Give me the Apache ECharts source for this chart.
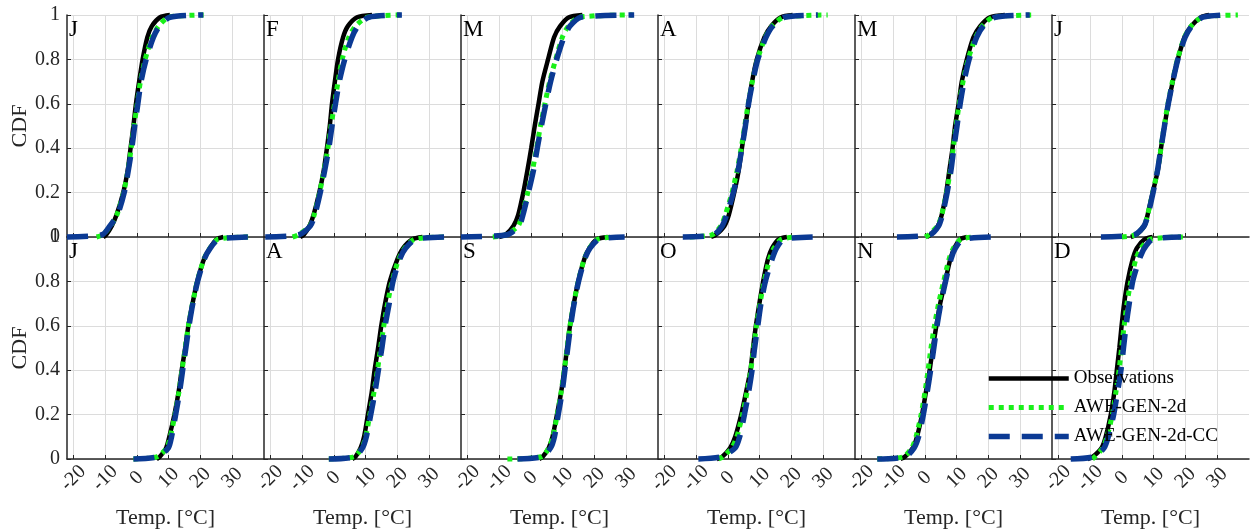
<!DOCTYPE html>
<html>
<head>
<meta charset="utf-8">
<script src="https://cdn.jsdelivr.net/npm/echarts@6/dist/echarts.min.js"></script>
<style>
  html, body { margin: 0; padding: 0; background: #ffffff; }
  #chart { width: 1255px; height: 532px; }
</style>
</head>
<body>
<div id="chart"></div>
<script>
// Monthly panel labels (Jan .. Dec)
const months = ['J', 'F', 'M', 'A', 'M', 'J', 'J', 'A', 'S', 'O', 'N', 'D'];

// Cumulative probability levels at which the temperature quantiles are given
const cdfLevels = [0, 0.01, 0.05, 0.1, 0.2, 0.3, 0.4, 0.5, 0.6, 0.7, 0.8, 0.9, 0.95, 0.99, 1];

// Axis tick values
const xTicks = [-20, -10, 0, 10, 20, 30];
const xRange = [-22, 40];

// Temperature quantiles [°C] per month, one row per month, one column per cdf level
const observations = [
  [-10.6, -9.7, -7.9, -6.4, -4.3, -2.9, -2.0, -1.1, -0.3, 0.7, 1.8, 3.3, 4.7, 7.3, 10.4],
  [-10.6, -9.5, -7.7, -6.4, -4.6, -3.2, -2.2, -1.3, -0.6, 0.3, 1.3, 2.9, 4.4, 7.3, 12.0],
  [-10.0, -8.0, -5.5, -4.0, -2.4, -1.1, 0.1, 1.2, 2.4, 3.6, 5.4, 7.3, 9.2, 12.0, 16.2],
  [-5.3, -3.8, -1.1, 0.3, 2.0, 3.4, 4.4, 5.5, 6.5, 7.6, 9.1, 11.5, 13.6, 16.7, 20.4],
  [0.6, 1.8, 4.1, 5.3, 6.7, 7.7, 8.7, 9.5, 10.6, 11.6, 13.2, 15.3, 17.4, 20.5, 25.2],
  [2.8, 4.5, 7.1, 8.1, 9.7, 11.3, 12.3, 13.4, 14.6, 16.0, 17.6, 19.7, 21.8, 24.9, 27.5],
  [6.2, 7.2, 9.2, 10.2, 11.8, 13.1, 14.1, 15.2, 16.2, 17.5, 19.0, 21.1, 23.0, 25.1, 27.2],
  [5.8, 6.8, 8.4, 9.5, 10.7, 11.9, 12.8, 13.9, 14.9, 16.1, 17.6, 20.0, 21.8, 24.7, 27.9],
  [2.6, 3.7, 5.6, 6.8, 8.2, 9.5, 10.5, 11.4, 12.3, 13.5, 14.9, 16.8, 18.4, 20.8, 24.2],
  [-3.5, -1.8, 0.7, 2.3, 4.2, 5.7, 7.1, 7.9, 8.8, 9.9, 11.1, 12.6, 13.9, 16.0, 18.6],
  [-7.7, -6.3, -3.8, -2.5, -0.9, 0.3, 1.5, 2.5, 3.6, 4.8, 6.4, 8.0, 9.3, 11.1, 13.2],
  [-10.8, -9.2, -6.4, -5.1, -3.5, -2.4, -1.6, -0.8, -0.1, 0.7, 1.8, 3.4, 4.7, 7.1, 9.7]
];

const aweGen2d = [
  [-12.7, -10.8, -8.3, -6.3, -4.2, -2.8, -1.8, -0.9, 0.1, 1.1, 2.6, 4.8, 6.8, 10.0, 21.0],
  [-13.0, -11.2, -7.6, -6.2, -4.5, -3.1, -1.9, -0.9, 0.2, 1.3, 2.6, 4.7, 6.8, 10.5, 21.4],
  [-12.0, -7.8, -4.0, -2.8, -1.0, 0.5, 1.8, 3.0, 4.4, 5.9, 7.8, 9.9, 11.8, 15.2, 32.0],
  [-12.0, -5.0, -2.2, -0.8, 1.3, 2.9, 4.2, 5.3, 6.4, 7.7, 9.3, 11.8, 13.9, 17.5, 31.4],
  [0.1, 1.2, 4.0, 5.3, 6.8, 8.0, 8.9, 9.8, 10.8, 12.0, 13.6, 16.0, 18.0, 21.5, 35.0],
  [0.0, 4.2, 7.0, 8.1, 9.7, 11.2, 12.3, 13.3, 14.5, 15.9, 17.5, 19.7, 21.8, 25.3, 36.5],
  [-1.1, 6.3, 9.4, 10.5, 12.0, 13.2, 14.2, 15.2, 16.2, 17.5, 19.0, 21.1, 23.0, 25.5, 35.0],
  [-1.6, 6.3, 8.8, 10.0, 11.3, 12.6, 13.7, 14.7, 15.7, 16.9, 18.3, 20.4, 22.3, 25.4, 35.3],
  [-7.4, 3.3, 5.6, 6.9, 8.3, 9.5, 10.5, 11.4, 12.3, 13.5, 14.9, 16.8, 18.4, 21.0, 26.0],
  [-3.0, -1.6, 1.2, 2.8, 4.6, 6.0, 7.2, 8.1, 9.0, 10.1, 11.4, 13.1, 14.5, 16.8, 21.8],
  [-15.0, -6.8, -4.1, -2.8, -1.2, 0.0, 1.0, 1.9, 3.0, 4.3, 5.9, 7.6, 9.0, 11.3, 15.8],
  [-9.3, -8.5, -6.0, -4.7, -3.0, -1.9, -0.9, -0.1, 0.7, 1.6, 2.8, 4.4, 6.0, 9.0, 19.7]
];

const aweGen2dCC = [
  [-22.0, -11.0, -8.5, -6.1, -4.0, -2.7, -1.6, -0.7, 0.3, 1.3, 2.9, 5.2, 7.1, 10.4, 20.9],
  [-21.6, -11.0, -7.4, -6.0, -4.3, -2.9, -1.6, -0.6, 0.5, 1.7, 3.4, 5.7, 7.6, 11.0, 21.4],
  [-22.0, -7.5, -3.7, -2.5, -0.8, 0.8, 2.0, 3.3, 4.7, 6.2, 8.1, 10.4, 12.3, 15.7, 32.5],
  [-14.2, -4.5, -1.8, -0.4, 1.7, 3.2, 4.4, 5.5, 6.5, 7.8, 9.4, 12.0, 14.1, 17.8, 28.3],
  [-8.8, 1.5, 4.3, 5.5, 7.0, 8.2, 9.1, 10.1, 11.1, 12.3, 13.9, 16.3, 18.4, 22.1, 33.0],
  [-6.6, 4.0, 7.0, 8.2, 9.8, 11.2, 12.3, 13.4, 14.6, 16.0, 17.6, 19.9, 22.0, 25.5, 33.4],
  [-1.1, 6.5, 9.9, 10.9, 12.2, 13.4, 14.4, 15.4, 16.4, 17.6, 19.1, 21.2, 23.1, 25.8, 36.1],
  [-1.6, 6.5, 9.0, 10.2, 11.6, 12.9, 14.0, 15.1, 16.1, 17.4, 18.6, 20.7, 22.6, 25.8, 35.3],
  [-4.2, 3.5, 6.2, 7.4, 8.6, 9.8, 10.7, 11.6, 12.5, 13.6, 15.0, 16.9, 18.6, 21.5, 29.5],
  [-9.3, -2.2, 2.3, 3.7, 5.2, 6.5, 7.6, 8.4, 9.4, 10.4, 11.8, 13.9, 15.3, 17.6, 28.1],
  [-15.0, -6.2, -3.4, -2.0, -0.5, 0.7, 1.8, 2.8, 3.8, 5.0, 6.5, 8.2, 9.6, 12.0, 23.1],
  [-16.1, -9.0, -5.6, -4.3, -2.6, -1.4, -0.3, 0.5, 1.3, 2.3, 3.4, 5.5, 7.1, 9.7, 18.6]
];

const seriesNames = ['Observations', 'AWE-GEN-2d', 'AWE-GEN-2d-CC'];

// Layout of the 2 x 6 panel matrix (pixels)
const PLOT_LEFT = 67, PLOT_TOP = 15, PLOT_W = 197, PLOT_H = 222, COLS = 6;
const SERIF = "'Liberation Serif', 'Times New Roman', serif";
const AXIS_COLOR = '#262626';
const GRID_COLOR = '#dcdcdc';

const styles = [
  { color: '#000000', width: 4.5, type: 'solid' },
  { color: '#19f019', width: 5, type: [5, 5] },
  { color: '#0b3a94', width: 5.5, type: [21, 12] }
];
const datasets = [observations, aweGen2d, aweGen2dCC];

const grids = [], xAxes = [], yAxes = [], series = [], titles = [];

months.forEach((m, i) => {
  const row = Math.floor(i / COLS), col = i % COLS;
  const left = PLOT_LEFT + col * PLOT_W;
  const top = PLOT_TOP + row * PLOT_H;
  grids.push({ left: left, top: top, width: PLOT_W, height: PLOT_H, outerBoundsMode: 'none', containLabel: false });

  xAxes.push({
    type: 'value', gridIndex: i, min: xRange[0], max: xRange[1],
    name: row === 1 ? 'Temp. [°C]' : '',
    nameLocation: 'middle', nameGap: 48,
    nameTextStyle: { fontFamily: SERIF, fontSize: 22, color: AXIS_COLOR },
    axisLine: { show: true, onZero: false, lineStyle: { color: AXIS_COLOR, width: 1.5 } },
    axisTick: { show: true, inside: true, length: 4, customValues: xTicks, lineStyle: { color: AXIS_COLOR, width: 1 } },
    axisLabel: {
      show: row === 1, customValues: xTicks, rotate: 45, align: 'center', verticalAlign: 'middle',
      margin: 19, fontFamily: SERIF, fontSize: 20, color: AXIS_COLOR
    },
    splitLine: { show: true, lineStyle: { color: GRID_COLOR, width: 1 } }
  });

  yAxes.push({
    type: 'value', gridIndex: i, min: 0, max: 1, interval: 0.2,
    name: col === 0 ? 'CDF' : '',
    nameLocation: 'middle', nameGap: 36, nameRotate: 90,
    nameTextStyle: { fontFamily: SERIF, fontSize: 22, color: AXIS_COLOR },
    axisLine: { show: true, onZero: false, lineStyle: { color: AXIS_COLOR, width: 1.5 } },
    axisTick: { show: true, inside: true, length: 4, lineStyle: { color: AXIS_COLOR, width: 1 } },
    axisLabel: { show: col === 0, margin: 7, fontFamily: SERIF, fontSize: 20, color: AXIS_COLOR },
    splitLine: { show: true, lineStyle: { color: GRID_COLOR, width: 1 } }
  });

  titles.push({
    text: m, left: left + 2, top: top + 3, padding: 0,
    textStyle: { fontFamily: SERIF, fontSize: 23, fontWeight: 'normal', color: '#000000' }
  });

  datasets.forEach((ds, k) => {
    series.push({
      name: seriesNames[k], type: 'line', xAxisIndex: i, yAxisIndex: i,
      data: ds[i].map((t, j) => [t, cdfLevels[j]]),
      showSymbol: false, symbol: 'none', smooth: 0.25, clip: false,
      lineStyle: { color: styles[k].color, width: styles[k].width, type: styles[k].type, cap: 'butt' },
      itemStyle: { color: styles[k].color },
      emphasis: { disabled: true }, silent: true, animation: false
    });
  });
});

// Legend entries: plain line samples without a marker
const legendData = seriesNames.map((name, k) => ({
  name: name,
  itemStyle: { color: 'rgba(0,0,0,0)', borderWidth: 0, opacity: 0 },
  lineStyle: { color: styles[k].color, width: styles[k].width, type: styles[k].type, cap: 'butt', opacity: 1 }
}));

const chart = echarts.init(document.getElementById('chart'), null, { renderer: 'canvas' });
chart.setOption({
  backgroundColor: '#ffffff',
  animation: false,
  title: titles,
  grid: grids,
  xAxis: xAxes,
  yAxis: yAxes,
  legend: {
    data: legendData, orient: 'vertical', left: 986, top: 369, padding: 0,
    itemWidth: 80, itemHeight: 14, itemGap: 10, selectedMode: false,
    textStyle: { fontFamily: SERIF, fontSize: 19, color: '#000000' }
  },
  series: series
});
</script>
</body>
</html>
